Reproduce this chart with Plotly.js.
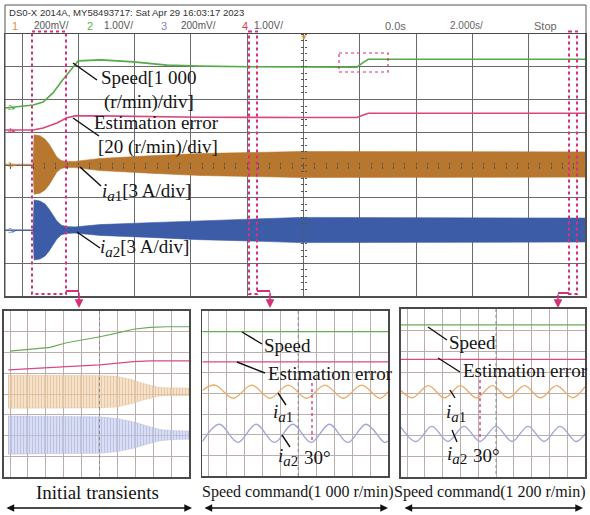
<!DOCTYPE html>
<html><head><meta charset="utf-8">
<script src="https://cdn.plot.ly/plotly-3.0.1.min.js"></script>
<style>html,body{margin:0;padding:0;background:#fff}#c{width:590px;height:515px}</style>
</head><body><div id="c"></div>
<script>
// ---------------- DATA (main record, time in s, values in divisions) ----------------
const speedT   = [-10.6,-9.6,-9.25,-8.9,-8.55,-8.2,-8.0,-7.2,-6.05,-4.85,-3.7,-1.9,-0.1,1.9,2.1,2.3,3.4,7.0,10.0];
const speedV   = [1.74,1.83,1.92,2.20,2.60,2.99,3.18,3.21,3.15,3.05,3.02,3.0,2.99,2.99,3.12,3.23,3.23,3.22,3.23];
const errT     = [-10.6,-9.6,-9.25,-8.76,-8.4,-8.12,-7.2,-3.7,-0.1,1.9,2.1,2.3,10.0];
const errV     = [1.07,1.07,1.13,1.28,1.44,1.50,1.50,1.46,1.45,1.45,1.52,1.58,1.58];
const envT     = [-10.6,-9.61,-9.57,-9.36,-9.18,-9.04,-8.90,-8.76,-8.61,-8.44,-8.12,-7.23,-5.45,-3.68,-1.90,-0.12,10.0];
const ia1Upper = [0.02,0.02,0.92,0.89,0.79,0.64,0.44,0.24,0.14,0.11,0.11,0.20,0.28,0.35,0.38,0.41,0.40];
const ia1Lower = [0.02,0.02,-0.89,-0.86,-0.76,-0.61,-0.41,-0.21,-0.11,-0.08,-0.08,-0.17,-0.25,-0.32,-0.35,-0.38,-0.37];
const ia2Upper = [-1.985,-1.985,-1.07,-1.10,-1.19,-1.34,-1.53,-1.71,-1.83,-1.88,-1.89,-1.82,-1.76,-1.70,-1.65,-1.60,-1.62];
const ia2Lower = [-1.985,-1.985,-2.90,-2.87,-2.78,-2.63,-2.44,-2.26,-2.14,-2.09,-2.08,-2.15,-2.21,-2.28,-2.32,-2.37,-2.35];

// ---------------- DATA (zoom panel 1: initial transients, divisions) ----------------
const p1SpeedX = [-5.0,-3.88,-2.77,-1.84,-0.91,0.03,0.96,1.89,2.82,3.75,5.0];
const p1SpeedY = [2.07,2.15,2.25,2.47,2.60,2.76,2.93,3.12,3.21,3.24,3.24];
const p1ErrX   = [-5.09,-3.70,-1.83,0.03,1.89,2.82,5.0];
const p1ErrY   = [1.16,1.24,1.32,1.40,1.56,1.60,1.60];
const p1Ia1X   = [-5.11,-3.88,-1.84,0.03,0.96,1.42,1.89,2.35,2.82,3.28,3.75,5.0];
const p1Ia1Up  = [0.91,0.91,0.90,0.89,0.85,0.77,0.67,0.53,0.41,0.33,0.30,0.29];
const p1Ia1Lo  = [-0.69,-0.69,-0.68,-0.67,-0.63,-0.55,-0.45,-0.31,-0.19,-0.11,-0.08,-0.07];
const p1Ia2X   = [-5.11,-3.88,-1.84,0.03,0.96,1.89,2.82,3.38,4.22,5.0];
const p1Ia2Up  = [-1.06,-1.07,-1.08,-1.10,-1.18,-1.34,-1.58,-1.71,-1.77,-1.78];
const p1Ia2Lo  = [-2.90,-2.89,-2.88,-2.86,-2.78,-2.62,-2.38,-2.25,-2.19,-2.18];

// ---------------- DATA (zoom panel 2: 1000 r/min) ----------------
const p2LineX  = [-5.33,5.0];
const p2SpeedY = [3.0,3.0];
const p2ErrY   = [1.53,1.53];
const p2Ia1X   = [-5.33,-4.63,-3.61,-2.59,-1.57,-0.55,0.47,1.49,2.51,3.53,4.55,5.0];
const p2Ia1Y   = [0.15,0.41,-0.23,0.41,-0.23,0.41,-0.23,0.41,-0.23,0.41,-0.23,0.09];
const p2Ia2X   = [-5.33,-4.38,-3.36,-2.34,-1.32,-0.30,0.72,1.74,2.76,3.78,4.80,5.0];
const p2Ia2Y   = [-2.33,-1.49,-2.37,-1.49,-2.37,-1.49,-2.37,-1.49,-2.37,-1.49,-2.37,-2.30];

// ---------------- DATA (zoom panel 3: 1200 r/min) ----------------
const p3LineX  = [-5.34,5.0];
const p3SpeedY = [3.24,3.24];
const p3ErrY   = [1.60,1.60];
const p3Ia1X   = [-5.34,-4.70,-3.80,-2.90,-2.00,-1.10,-0.20,0.70,1.60,2.50,3.40,4.30,5.0];
const p3Ia1Y   = [0.12,-0.23,0.35,-0.23,0.35,-0.23,0.35,-0.23,0.35,-0.23,0.35,-0.23,0.30];
const p3Ia2X   = [-5.34,-4.50,-3.60,-2.70,-1.80,-0.90,0.00,0.90,1.80,2.70,3.60,4.50,5.0];
const p3Ia2Y   = [-1.62,-2.31,-1.59,-2.31,-1.59,-2.31,-1.59,-2.31,-1.59,-2.31,-1.59,-2.31,-1.95];

// ---------------- helpers ----------------
const W = 590, H = 515;
const px = v => v / W;
const py = v => 1 - v / H;

const C = {
  green:'#55a948', pink:'#d8457f', orange:'#b8772f', blue:'#3c5ca8',
  pGreen:'#6aab57', pPink:'#d84a84', pOrange:'#e9ab66', pBlue:'#9ea6d6',
  mark:'#d6307a', grid:'#6a6a6a', pgrid:'#bdaeae', frame:'#4a4a4a'
};

const traces = [];
function line(x, y, xa, ya, color, w, shape) {
  traces.push({x, y, xaxis:xa, yaxis:ya, mode:'lines', hoverinfo:'skip',
    line:{color, width:w, shape:shape||'linear', smoothing:1}});
}
function band(x, lo, up, xa, ya, color, pattern) {
  traces.push({x, y:lo, xaxis:xa, yaxis:ya, mode:'lines', hoverinfo:'skip',
    line:{color, width:0.6}});
  const t = {x, y:up, xaxis:xa, yaxis:ya, mode:'lines', hoverinfo:'skip', fill:'tonexty',
    fillcolor:color, line:{color, width:0.6}};
  if (pattern) t.fillpattern = pattern;
  traces.push(t);
}

// main
line(speedT, speedV, 'x', 'y', C.green, 1.6);
line(errT, errV, 'x', 'y', C.pink, 1.6);
band(envT, ia1Lower, ia1Upper, 'x', 'y', C.orange);
band(envT, ia2Lower, ia2Upper, 'x', 'y', C.blue);
// invisible carriers for the centre tick axes
traces.push({x:[0], y:[0], xaxis:'x', yaxis:'y2', mode:'none', hoverinfo:'skip', showlegend:false});
traces.push({x:[0], y:[0], xaxis:'x', yaxis:'y3', mode:'none', hoverinfo:'skip', showlegend:false});
traces.push({x:[0], y:[0], xaxis:'x2', yaxis:'y', mode:'none', hoverinfo:'skip', showlegend:false});
traces.push({x:[0], y:[0], xaxis:'x3', yaxis:'y', mode:'none', hoverinfo:'skip', showlegend:false});

// panel 1
line(p1SpeedX, p1SpeedY, 'x4', 'y4', C.pGreen, 1.2);
line(p1ErrX, p1ErrY, 'x4', 'y4', C.pPink, 1.2);
band(p1Ia1X, p1Ia1Lo, p1Ia1Up, 'x4', 'y4', 'rgba(225,185,140,0.55)',
  {shape:'|', size:3, solidity:0.45, fgcolor:'#d9a66a', bgcolor:'rgba(240,215,185,0.6)', fillmode:'overlay'});
band(p1Ia2X, p1Ia2Lo, p1Ia2Up, 'x4', 'y4', 'rgba(165,175,220,0.55)',
  {shape:'|', size:3, solidity:0.45, fgcolor:'#97a0d6', bgcolor:'rgba(205,210,238,0.6)', fillmode:'overlay'});

// panel 2
line(p2LineX, p2SpeedY, 'x5', 'y5', C.pGreen, 1.3);
line(p2LineX, p2ErrY, 'x5', 'y5', C.pPink, 1.3);
line(p2Ia1X, p2Ia1Y, 'x5', 'y5', C.pOrange, 1.3, 'spline');
line(p2Ia2X, p2Ia2Y, 'x5', 'y5', C.pBlue, 1.3, 'spline');

// panel 3
line(p3LineX, p3SpeedY, 'x6', 'y6', C.pGreen, 1.3);
line(p3LineX, p3ErrY, 'x6', 'y6', C.pPink, 1.3);
line(p3Ia1X, p3Ia1Y, 'x6', 'y6', C.pOrange, 1.3, 'spline');
line(p3Ia2X, p3Ia2Y, 'x6', 'y6', C.pBlue, 1.3, 'spline');

// ---------------- axes ----------------
function scopeAx(domain, range, dtick, gridcolor, linecolor, lw) {
  return {domain, range, dtick, tick0:0, showgrid:true, gridcolor, gridwidth:1,
    zeroline:false, showline:true, mirror:true, linecolor, linewidth:lw,
    ticks:'', showticklabels:false, fixedrange:true};
}
function tickAx(over, pos, range, dtick, side) {
  return {overlaying:over, anchor:'free', position:pos, range, dtick, tick0:0,
    ticks:'outside', ticklen:2.5, tickcolor:'#555', showline:false, showgrid:false, zeroline:false,
    showticklabels:false, side, fixedrange:true};
}
const mainDomX = [px(5), px(585)], mainDomY = [py(296), py(34)];
const layout = {
  width:W, height:H, margin:{l:0, r:0, t:0, b:0},
  paper_bgcolor:'#fff', plot_bgcolor:'rgba(0,0,0,0)', showlegend:false,
  xaxis: Object.assign(scopeAx(mainDomX, [-10.604, 10], 2, C.grid, C.frame, 1.5), {anchor:'y'}),
  yaxis: Object.assign(scopeAx(mainDomY, [-4, 4], 1, C.grid, C.frame, 1.5), {anchor:'x'}),
  yaxis2: tickAx('y', px(303.5), [-4, 4], 0.2, 'left'),
  yaxis3: tickAx('y', px(303.5), [-4, 4], 0.2, 'right'),
  xaxis2: tickAx('x', py(165), [-10.604, 10], 0.4, 'bottom'),
  xaxis3: tickAx('x', py(165), [-10.604, 10], 0.4, 'top'),
  xaxis4: Object.assign(scopeAx([px(4), px(189)], [-5.335, 5], 1, C.pgrid, C.frame, 1.7), {anchor:'y4'}),
  yaxis4: Object.assign(scopeAx([py(477), py(311)], [-4, 4], 1, C.pgrid, C.frame, 1.7), {anchor:'x4'}),
  xaxis5: Object.assign(scopeAx([px(202.3), px(388)], [-5.334, 5], 1, C.pgrid, C.frame, 1.7), {anchor:'y5'}),
  yaxis5: Object.assign(scopeAx([py(476), py(311)], [-4, 4], 1, C.pgrid, C.frame, 1.7), {anchor:'x5'}),
  xaxis6: Object.assign(scopeAx([px(401), px(585)], [-5.337, 5], 1, C.pgrid, C.frame, 1.7), {anchor:'y6'}),
  yaxis6: Object.assign(scopeAx([py(477), py(309)], [-4, 4], 1, C.pgrid, C.frame, 1.7), {anchor:'x6'}),
  shapes:[], annotations:[]
};
// main zero lines (centre cross)
layout.xaxis.zeroline = true; layout.xaxis.zerolinecolor = C.grid; layout.xaxis.zerolinewidth = 1;
layout.yaxis.zeroline = true; layout.yaxis.zerolinecolor = C.grid; layout.yaxis.zerolinewidth = 1;

const S = layout.shapes, A = layout.annotations;
function pline(x0, y0, x1, y1, color, w, dash) {
  S.push({type:'line', xref:'paper', yref:'paper', x0:px(x0), y0:py(y0), x1:px(x1), y1:py(y1),
    line:{color, width:w, dash:dash||'solid'}});
}
function prect(x0, y0, x1, y1, color, w, dash) {
  S.push({type:'rect', xref:'paper', yref:'paper', x0:px(x0), y0:py(y0), x1:px(x1), y1:py(y1),
    line:{color, width:w, dash:dash||'solid'}});
}
function txt(t, x, y, size, opts) {
  A.push(Object.assign({text:t, x:px(x), y:py(y), xref:'paper', yref:'paper', showarrow:false,
    xanchor:'left', yanchor:'middle', font:{family:'Liberation Serif, Times New Roman, serif', size, color:'#151515'}}, opts||{}));
}
function arrow(x0, y0, x1, y1, color, w, both) {
  A.push({text:'', x:px(x1), y:py(y1), xref:'paper', yref:'paper', ax:x0 - x1, ay:y0 - y1,
    axref:'pixel', ayref:'pixel', showarrow:true, arrowhead:2, arrowsize:1.1, arrowwidth:w,
    arrowcolor:color, arrowside: both ? 'end+start' : 'end', standoff:0, startstandoff:0});
}
const sub = n => "<i>i</i><sub><span style='font-size:15px'><i>a</i>" + n + "</span></sub>";

// outer screenshot frame
prect(5, 5, 586, 297, '#555', 1);

// header
A.push({text:'DS0-X 2014A, MY58493717: Sat Apr 29 16:03:17 2023', x:px(7), y:py(12.5), xref:'paper', yref:'paper',
  showarrow:false, xanchor:'left', yanchor:'middle', font:{family:'Liberation Sans, Arial, sans-serif', size:9.6, color:'#333'}});
const hdr = [['1',10,'#e0903a'],['200mV/',32,'#555'],['2',85,'#5cb04a'],['1.00V/',102,'#555'],
  ['3',159,'#8a80c4'],['200mV/',179,'#555'],['4',240,'#e0405a'],['1.00V/',252,'#555'],
  ['0.0s',383,'#666'],['2.000s/',448,'#666'],['Stop',532,'#666']];
hdr.forEach(h => A.push({text:h[0], x:px(h[1]), y:py(25.5), xref:'paper', yref:'paper', showarrow:false,
  xanchor:'left', yanchor:'middle', font:{family:'Liberation Sans, Arial, sans-serif', size:h[0].length > 4 ? 10 : 11, color:h[2]}}));

// trigger marker
A.push({text:'▼', x:px(303.5), y:py(36), xref:'paper', yref:'paper', showarrow:false, xanchor:'center', yanchor:'middle',
  font:{size:8, color:'#e09030'}});
// channel markers (main)
[['2',108,C.green],['4',130,C.pink],['1',164,'#d08a3a'],['3',230,'#6b7fc0']].forEach(m =>
  A.push({text:m[0]+'▸', x:px(6), y:py(m[1]), xref:'paper', yref:'paper', showarrow:false, xanchor:'left', yanchor:'middle',
    font:{family:'Liberation Sans, Arial, sans-serif', size:7, color:m[2]}}));

// pink selection boxes + connectors
prect(32, 31.5, 66, 294, C.mark, 2, 'dot');
prect(249, 31.5, 257, 294, C.mark, 2, 'dot');
prect(569, 31.5, 577, 294, C.mark, 2, 'dot');
prect(339, 53, 388, 72, C.mark, 1.2, 'dot');
pline(66, 291, 79, 291, C.mark, 2);
pline(257, 291, 270, 291, C.mark, 2);
pline(569, 293, 558, 293, C.mark, 2);
arrow(79, 291, 79, 308, C.mark, 1.6);
arrow(270, 291, 270, 308, C.mark, 1.6);
arrow(558, 293, 558, 308, C.mark, 1.6);

// main labels + leaders
const LC = '#111';
txt('Speed[1 000', 99, 78, 19);
txt('(r/min)/div]', 102, 102, 19);
txt('Estimation error', 92, 123, 19);
txt('[20 (r/min)/div]', 96, 147, 19);
txt(sub(1) + '[3 A/div]', 100, 192, 19);
txt(sub(2) + '[3 A/div]', 98, 248, 19);
pline(73, 63, 97, 80, LC, 1.5);
pline(73, 118, 99, 136, LC, 1.5);
pline(80, 167, 101, 186, LC, 1.5);
pline(77, 232, 100, 248, LC, 1.5);

// panel centre dotted lines
[[99.5, 311, 477],[298.2, 311, 476],[496, 309, 477]].forEach(p => {
  pline(p[0], p[1], p[0], p[2], '#888', 1, 'dot');
});

// panel 2 labels
txt('Speed', 262, 345, 19);
txt('Estimation error', 266, 373, 19);
txt(sub(1), 271, 413, 19);
txt(sub(2), 276, 457, 19);
txt('30°', 302, 457, 19);
pline(242, 332, 262, 344, LC, 1.4);
pline(237, 362, 265, 373, LC, 1.4);
pline(278, 393, 286, 405, LC, 1.4);
pline(282, 435, 290, 447, LC, 1.4);
pline(312, 383, 312, 443, C.mark, 1.3, 'dot');

// panel 3 labels
txt('Speed', 447, 342, 19);
txt('Estimation error', 461, 370, 19);
txt(sub(1), 444, 413, 19);
txt(sub(2), 445, 455, 19);
txt('30°', 471, 455, 19);
pline(428, 327, 447, 340, LC, 1.4);
pline(438, 358, 460, 372, LC, 1.4);
pline(450, 390, 455, 398, LC, 1.4);
pline(452, 430, 457, 442, LC, 1.4);
pline(480, 380, 480, 440, C.mark, 1.3, 'dot');

// bottom captions + double arrows
txt('Initial transients', 97, 492, 19, {xanchor:'center'});
txt('Speed command(1 000 r/min)', 298, 492, 16, {xanchor:'center'});
txt('Speed command(1 200 r/min)', 490, 492, 16, {xanchor:'center'});
arrow(5, 508, 192, 508, '#111', 1.4, true);
arrow(203, 508, 388, 508, '#111', 1.4, true);
arrow(403, 508, 583, 508, '#111', 1.4, true);

Plotly.newPlot('c', traces, layout, {staticPlot:true, displayModeBar:false});
</script></body></html>
